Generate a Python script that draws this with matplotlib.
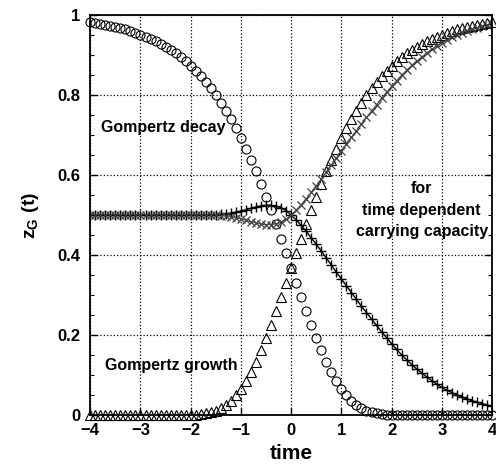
import numpy as np
import matplotlib
matplotlib.use("Agg")
import matplotlib.pyplot as plt
from matplotlib.ticker import MultipleLocator

plt.rcParams['font.family'] = ['Liberation Sans', 'DejaVu Sans']
plt.rcParams['font.weight'] = 'bold'
plt.rcParams['mathtext.fontset'] = 'custom'
plt.rcParams['mathtext.rm'] = 'Liberation Sans:bold'
plt.rcParams['mathtext.bf'] = 'Liberation Sans:bold'

#================================ data ================================
time = [-4.0, -3.9, -3.8, -3.7, -3.6, -3.5, -3.4, -3.3, -3.2, -3.1,
        -3.0, -2.9, -2.8, -2.7, -2.6, -2.5, -2.4, -2.3, -2.2, -2.1,
        -2.0, -1.9, -1.8, -1.7, -1.6, -1.5, -1.4, -1.3, -1.2, -1.1,
        -1.0, -0.9, -0.8, -0.7, -0.6, -0.5, -0.4, -0.3, -0.2, -0.1,
        0.0, 0.1, 0.2, 0.3, 0.4, 0.5, 0.6, 0.7, 0.8, 0.9,
        1.0, 1.1, 1.2, 1.3, 1.4, 1.5, 1.6, 1.7, 1.8, 1.9,
        2.0, 2.1, 2.2, 2.3, 2.4, 2.5, 2.6, 2.7, 2.8, 2.9,
        3.0, 3.1, 3.2, 3.3, 3.4, 3.5, 3.6, 3.7, 3.8, 3.9, 4.0]

# Gompertz decay (circles)
decay = [0.982, 0.980, 0.978, 0.976, 0.973, 0.970, 0.967, 0.964, 0.960, 0.956,
         0.951, 0.946, 0.941, 0.935, 0.928, 0.921, 0.913, 0.905, 0.895, 0.885,
         0.873, 0.861, 0.848, 0.833, 0.817, 0.800, 0.781, 0.761, 0.740, 0.717,
         0.692, 0.666, 0.638, 0.609, 0.578, 0.545, 0.512, 0.477, 0.441, 0.405,
         0.368, 0.331, 0.295, 0.259, 0.225, 0.192, 0.162, 0.133, 0.108, 0.086,
         0.066, 0.050, 0.036, 0.026, 0.017, 0.011, 0.007, 0.004, 0.002, 0.001,
         0.001, 0.0, 0.0, 0.0, 0.0, 0.0, 0.0, 0.0, 0.0, 0.0,
         0.0, 0.0, 0.0, 0.0, 0.0, 0.0, 0.0, 0.0, 0.0, 0.0, 0.0]

# Gompertz growth (triangles)
growth = [0.0, 0.0, 0.0, 0.0, 0.0, 0.0, 0.0, 0.0, 0.0, 0.0,
          0.0, 0.0, 0.0, 0.0, 0.0, 0.0, 0.0, 0.0, 0.0, 0.0,
          0.001, 0.001, 0.002, 0.004, 0.007, 0.011, 0.017, 0.026, 0.036, 0.050,
          0.066, 0.086, 0.108, 0.133, 0.162, 0.192, 0.225, 0.259, 0.295, 0.331,
          0.368, 0.405, 0.441, 0.477, 0.512, 0.545, 0.578, 0.609, 0.638, 0.666,
          0.692, 0.717, 0.740, 0.761, 0.781, 0.800, 0.817, 0.833, 0.848, 0.861,
          0.873, 0.885, 0.895, 0.905, 0.913, 0.921, 0.928, 0.935, 0.941, 0.946,
          0.951, 0.956, 0.960, 0.964, 0.967, 0.970, 0.973, 0.976, 0.978, 0.980, 0.982]

# time dependent carrying capacity, decreasing (+)
cc_down = [0.500, 0.500, 0.500, 0.500, 0.500, 0.500, 0.500, 0.500, 0.500, 0.500,
           0.500, 0.500, 0.500, 0.500, 0.500, 0.500, 0.500, 0.500, 0.500, 0.500,
           0.500, 0.500, 0.500, 0.500, 0.501, 0.501, 0.502, 0.503, 0.505, 0.507,
           0.510, 0.513, 0.517, 0.520, 0.523, 0.524, 0.524, 0.522, 0.518, 0.511,
           0.500, 0.488, 0.474, 0.459, 0.443, 0.427, 0.410, 0.392, 0.375, 0.357,
           0.340, 0.323, 0.306, 0.289, 0.272, 0.256, 0.240, 0.224, 0.208, 0.193,
           0.178, 0.164, 0.150, 0.138, 0.126, 0.115, 0.105, 0.095, 0.086, 0.077,
           0.069, 0.062, 0.056, 0.050, 0.045, 0.040, 0.036, 0.032, 0.028, 0.025, 0.022]

# time dependent carrying capacity, increasing (x)
cc_up = [0.500, 0.500, 0.500, 0.500, 0.500, 0.500, 0.500, 0.500, 0.500, 0.500,
         0.500, 0.500, 0.500, 0.500, 0.500, 0.500, 0.500, 0.500, 0.500, 0.500,
         0.500, 0.500, 0.500, 0.500, 0.499, 0.499, 0.498, 0.497, 0.495, 0.493,
         0.490, 0.487, 0.483, 0.480, 0.477, 0.476, 0.476, 0.478, 0.482, 0.489,
         0.500, 0.512, 0.526, 0.541, 0.557, 0.573, 0.590, 0.608, 0.625, 0.643,
         0.660, 0.677, 0.694, 0.711, 0.728, 0.744, 0.760, 0.776, 0.792, 0.807,
         0.822, 0.836, 0.850, 0.862, 0.874, 0.885, 0.895, 0.905, 0.914, 0.923,
         0.931, 0.938, 0.944, 0.950, 0.955, 0.960, 0.964, 0.968, 0.972, 0.975, 0.978]

#================================ figure ================================
fig = plt.figure(figsize=(4.96, 4.71), dpi=100)
ax = fig.add_axes([0.182, 0.119, 0.810, 0.849])

ax.plot(time, cc_down, '-', c='k', lw=1.0)
ax.plot(time, cc_up, '-', c='0.35', lw=0.8)
ax.plot(time, decay, 'o', mfc='none', mec='k', ms=6.5, mew=0.8, clip_on=False)
ax.plot(time, growth, '^', mfc='none', mec='k', ms=6.5, mew=0.8, clip_on=False)
ax.plot(time, cc_down, '+', c='k', ms=7, mew=1.0)
ax.plot(time, cc_up, 'x', c='0.25', ms=6, mew=0.9)

ax.set_xlim(-4, 4)
ax.set_ylim(0, 1)
ax.xaxis.set_major_locator(MultipleLocator(1))
ax.yaxis.set_minor_locator(MultipleLocator(0.05))
ax.set_yticks([0, 0.2, 0.4, 0.6, 0.8, 1.0])
ax.set_yticklabels(['0', '0.2', '0.4', '0.6', '0.8', '1'])
ax.grid(True, which='major', ls=':', c='k', lw=0.9)
ax.tick_params(axis='both', which='both', direction='in', labelsize=12,
               right=True, top=False)
ax.tick_params(axis='both', which='major', length=5, width=1.0)
ax.tick_params(axis='x', which='major', pad=6)
ax.tick_params(axis='y', which='major', pad=7)
ax.tick_params(axis='y', which='minor', length=3, width=0.8)
for s in ax.spines.values():
    s.set_linewidth(1.3)

ax.set_xlabel('time', fontsize=15, fontweight='bold', labelpad=4)
ax.set_ylabel(r'z$_{\mathrm{G}}$ (t)', fontsize=14, fontweight='bold', labelpad=12)

ax.text(-3.78, 0.718, 'Gompertz decay', fontsize=11.5, fontweight='bold',
        ha='left', va='center')
ax.text(-3.70, 0.123, 'Gompertz growth', fontsize=11.5, fontweight='bold',
        ha='left', va='center')
ax.text(2.6, 0.512, 'for\ntime dependent\ncarrying capacity', fontsize=11.5,
        fontweight='bold', ha='center', va='center', linespacing=1.55)

fig.savefig('out.png', dpi=100)
